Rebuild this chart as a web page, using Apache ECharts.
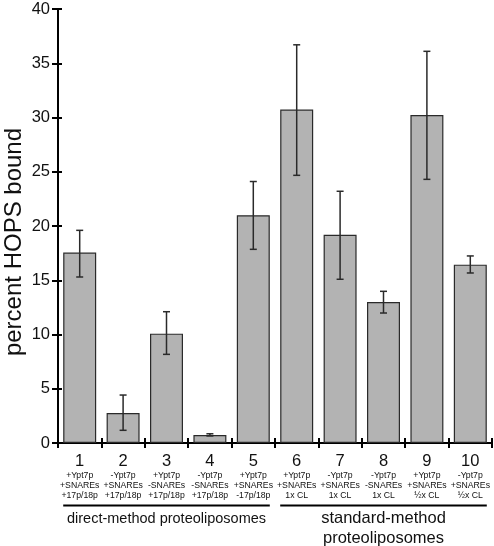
<!DOCTYPE html>
<html>
<head>
<meta charset="utf-8">
<script src="https://cdn.jsdelivr.net/npm/echarts@6/dist/echarts.min.js"></script>
<style>
html,body{margin:0;padding:0;background:#fff;}
#chart{width:494px;height:546px;}
</style>
</head>
<body>
<div id="chart"></div>
<script>
// ---- data ----
var categories = ['1','2','3','4','5','6','7','8','9','10'];
var labelLine1 = ['+Ypt7p','-Ypt7p','+Ypt7p','-Ypt7p','+Ypt7p','+Ypt7p','-Ypt7p','-Ypt7p','+Ypt7p','-Ypt7p'];
var labelLine2 = ['+SNAREs','+SNAREs','-SNAREs','-SNAREs','+SNAREs','+SNAREs','+SNAREs','-SNAREs','+SNAREs','+SNAREs'];
var labelLine3 = ['+17p/18p','+17p/18p','+17p/18p','+17p/18p','-17p/18p','1x CL','1x CL','1x CL','½x CL','½x CL'];
var values  = [17.55, 2.77, 10.08, 0.74, 20.99, 30.73, 19.2, 13.0, 30.23, 16.44];
var errLow  = [15.3, 1.17, 8.17, 0.65, 17.85, 24.67, 15.09, 11.98, 24.3, 15.67];
var errHigh = [19.6, 4.42, 12.1, 0.85, 24.1, 36.7, 23.2, 13.98, 36.1, 17.24];
var yTicks = [0, 5, 10, 15, 20, 25, 30, 35, 40];
var groupLabels = ['direct-method proteoliposomes', 'standard-method\nproteoliposomes'];
var groupStart = [0, 5];
var groupEnd = [4, 9];
var yAxisName = 'percent HOPS bound';

var FONT = 'Liberation Sans, Arial, Helvetica, sans-serif';
var chart = echarts.init(document.getElementById('chart'), null, {renderer:'canvas'});

var errData = categories.map(function(c, i){ return [i, errLow[i], errHigh[i]]; });

var baseX = {
  type:'category', data: categories,
  boundaryGap: true,
  axisLine:{show:true, lineStyle:{color:'#000', width:2}},
  splitLine:{show:false}
};
var baseY = {
  type:'value', min: yTicks[0], max: yTicks[yTicks.length-1], interval: 5,
  splitLine:{show:false}
};

var option = {
  animation:false,
  backgroundColor:'#fff',
  grid:{left:58, right:2, top:9, bottom:103, containLabel:false},
  xAxis:[
    Object.assign({}, baseX, {
      axisTick:{show:true, inside:false, length:5, lineStyle:{color:'#000', width:2}},
      axisLabel:{
        show:true, margin:9, interval:0, fontFamily:FONT, color:'#111',
        formatter:function(v, i){
          return '{n|' + v + '}\n{s|' + labelLine1[i] + '}\n{s|' + labelLine2[i] + '}\n{s|' + labelLine3[i] + '}';
        },
        rich:{
          n:{fontSize:16.5, lineHeight:19, fontFamily:FONT, color:'#111'},
          s:{fontSize:8.7, lineHeight:9.7, fontFamily:FONT, color:'#111'}
        }
      }
    }),
    Object.assign({}, baseX, {
      position:'bottom', offset:0,
      axisLine:{show:false},
      axisTick:{show:true, inside:true, length:5, lineStyle:{color:'#000', width:2}},
      axisLabel:{show:false}
    })
  ],
  yAxis:[
    Object.assign({}, baseY, {
      axisLine:{show:true, lineStyle:{color:'#000', width:2}},
      axisTick:{show:true, inside:false, length:6, lineStyle:{color:'#000', width:2}},
      axisLabel:{show:true, margin:8, fontSize:16.5, fontFamily:FONT, color:'#111'}
    }),
    Object.assign({}, baseY, {
      position:'left', offset:0,
      axisLine:{show:false},
      axisTick:{show:true, inside:true, length:4, lineStyle:{color:'#000', width:2}},
      axisLabel:{show:false}
    })
  ],
  series:[
    {
      type:'bar', data: values, barWidth:'76%',
      xAxisIndex:0, yAxisIndex:0,
      itemStyle:{color:'#b3b3b3', borderColor:'#2a2a2a', borderWidth:1.2},
      z:2
    },
    {
      type:'custom', data: errData, xAxisIndex:0, yAxisIndex:0, z:5,
      renderItem:function(params, api){
        var x = api.value(0);
        var lo = api.coord([x, api.value(1)]);
        var hi = api.coord([x, api.value(2)]);
        var cw = 3.5;
        var st = {stroke:'#2a2a2a', lineWidth:1.5};
        return {type:'group', children:[
          {type:'line', shape:{x1:lo[0], y1:lo[1], x2:hi[0], y2:hi[1]}, style:st},
          {type:'line', shape:{x1:lo[0]-cw, y1:lo[1], x2:lo[0]+cw, y2:lo[1]}, style:st},
          {type:'line', shape:{x1:hi[0]-cw, y1:hi[1], x2:hi[0]+cw, y2:hi[1]}, style:st}
        ]};
      }
    }
  ]
};
chart.setOption(option);

// group annotations positioned from the axis scale
var c0 = chart.convertToPixel({xAxisIndex:0}, categories[0]);
var c1 = chart.convertToPixel({xAxisIndex:0}, categories[1]);
var step = c1 - c0;
var half = step * 0.38;
var graphics = [];
for (var g = 0; g < groupLabels.length; g++) {
  var xa = chart.convertToPixel({xAxisIndex:0}, categories[groupStart[g]]) - half;
  var xb = chart.convertToPixel({xAxisIndex:0}, categories[groupEnd[g]]) + half;
  graphics.push({type:'line', shape:{x1:xa, y1:505.5, x2:xb, y2:505.5}, style:{stroke:'#000', lineWidth:2}});
  var isTwo = groupLabels[g].indexOf('\n') >= 0;
  graphics.push({type:'text', x:(xa+xb)/2, y:isTwo ? 508 : 509,
    style:{text:groupLabels[g], fill:'#111', font:(isTwo?'16.5px ':'14.5px ') + FONT,
      align:'center', verticalAlign:'top', lineHeight:20}});
}
var yMid = 242;
graphics.push({type:'text', x:14, y:yMid, rotation:Math.PI/2,
  style:{text:yAxisName, fill:'#111', font:'24px ' + FONT, align:'center', verticalAlign:'middle'}});
chart.setOption({graphic:graphics});
</script>
</body>
</html>
